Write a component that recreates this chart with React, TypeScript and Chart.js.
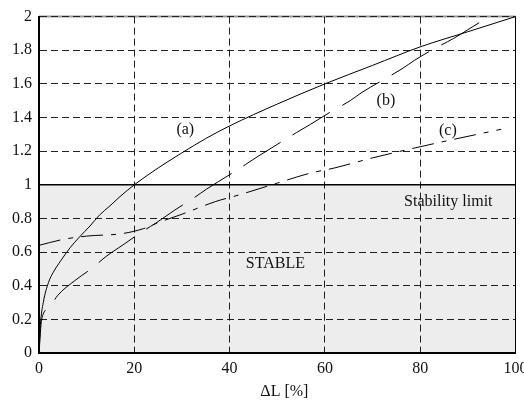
import React, { useEffect, useRef } from "react";
import { Chart, registerables } from "chart.js";

Chart.register(...registerables);

// ---- data ----
const xTickValues = [0, 20, 40, 60, 80, 100];
const yTickValues = [0, 0.2, 0.4, 0.6, 0.8, 1, 1.2, 1.4, 1.6, 1.8, 2];

const curveAX = [0, 0.3, 0.9, 2, 3, 4.6, 6.5, 8.5, 10.7, 12.7, 14.9, 17, 20, 25, 30, 35, 40, 50, 60, 70, 80, 90, 100];
const curveAY = [0, 0.17, 0.3, 0.42, 0.48, 0.55, 0.625, 0.69, 0.755, 0.82, 0.875, 0.93, 1.0, 1.1, 1.19, 1.275, 1.35, 1.48, 1.6, 1.71, 1.82, 1.91, 2.0];

const curveBX = [0, 0.56, 2.2, 3.85, 7.5, 11.4, 13.9, 18, 22.1, 24.4, 28.5, 32.4, 35.2, 40, 43.3, 46, 50, 54, 57, 61, 65.3, 67.8, 72, 76.2, 78.8, 83, 87, 89.9, 94.4];
const curveBY = [0, 0.2, 0.27, 0.34, 0.43, 0.51, 0.57, 0.65, 0.73, 0.77, 0.85, 0.92, 0.975, 1.06, 1.12, 1.17, 1.24, 1.31, 1.36, 1.43, 1.5, 1.55, 1.62, 1.69, 1.74, 1.81, 1.87, 1.92, 2.0];

const curveCX = [0, 5, 10, 17.5, 22, 25, 30, 37, 42, 50, 57, 62, 70, 79, 87, 97];
const curveCY = [0.64, 0.675, 0.695, 0.71, 0.74, 0.775, 0.825, 0.9, 0.94, 1.01, 1.07, 1.1, 1.16, 1.22, 1.27, 1.33];

const stabilityX = [0, 100];
const stabilityY = [1, 1];

const labelTexts = ["(a)", "(b)", "(c)", "Stability limit", "STABLE"];
const labelX = [30.7, 72.8, 85.8, 85.9, 49.6];
const labelY = [1.325, 1.5, 1.32, 0.9, 0.53];

const xAxisTitle = "ΔL [%]";
const xAxisTitleX = 51.5;

const FONT = '"Liberation Serif", "Times New Roman", serif';

const toPoints = (xs: number[], ys: number[]) => xs.map((x, i) => ({ x, y: ys[i] }));

const annotationPlugin = {
  id: "annotations",
  beforeDraw(chart: any) {
    const { ctx, chartArea } = chart;
    ctx.save();
    ctx.strokeStyle = "#999";
    ctx.lineWidth = 2;
    ctx.beginPath();
    ctx.moveTo(chartArea.left, chartArea.top);
    ctx.lineTo(chartArea.right, chartArea.top);
    ctx.stroke();
    ctx.restore();
  },
  afterDatasetsDraw(chart: any) {
    const { ctx, chartArea, scales } = chart;
    const xs = scales.x;
    const ys = scales.y;
    ctx.save();
    // right border
    ctx.strokeStyle = "#000";
    ctx.lineWidth = 1;
    ctx.beginPath();
    ctx.moveTo(chartArea.right, chartArea.top);
    ctx.lineTo(chartArea.right, chartArea.bottom);
    ctx.stroke();
    ctx.font = `16px ${FONT}`;
    ctx.fillStyle = "#111";
    ctx.textAlign = "center";
    ctx.textBaseline = "middle";
    labelTexts.forEach((t, i) => {
      ctx.fillText(t, xs.getPixelForValue(labelX[i]), ys.getPixelForValue(labelY[i]));
    });
    ctx.fillText(xAxisTitle, xs.getPixelForValue(xAxisTitleX), chartArea.bottom + 39);
    ctx.restore();
  },
};

export default function App() {
  const ref = useRef<HTMLCanvasElement | null>(null);
  useEffect(() => {
    if (!ref.current) return;
    const lineBase = {
      borderColor: "#000",
      borderWidth: 1,
      pointRadius: 0,
      fill: false,
      cubicInterpolationMode: "monotone" as const,
    };
    const chart = new Chart(ref.current, {
      type: "line",
      data: {
        datasets: [
          { ...lineBase, label: "a", data: toPoints(curveAX, curveAY) },
          { ...lineBase, label: "b", data: toPoints(curveBX, curveBY), borderDash: [44, 14] },
          { ...lineBase, label: "c", data: toPoints(curveCX, curveCY), borderDash: [22, 8, 5, 8] },
          {
            label: "stability",
            data: toPoints(stabilityX, stabilityY),
            borderColor: "#000",
            borderWidth: 1.5,
            pointRadius: 0,
            fill: "origin",
            backgroundColor: "rgba(0,0,0,0.07)",
          },
        ],
      },
      options: {
        responsive: false,
        animation: false,
        layout: { padding: { top: 12, right: 8.5, left: 0, bottom: 0 } },
        plugins: { legend: { display: false }, tooltip: { enabled: false } },
        scales: {
          x: {
            type: "linear",
            min: 0,
            max: 100,
            afterBuildTicks: (s: any) => {
              s.ticks = xTickValues.map((v) => ({ value: v }));
            },
            afterFit: (s: any) => {
              s.height = 52;
              s.paddingRight = 0;
              s.paddingLeft = 0;
            },
            ticks: {
              padding: 6,
              color: "#111",
              font: { family: FONT, size: 16 },
              maxRotation: 0,
              callback: (v: any) => String(v),
            },
            grid: { color: "#222", lineWidth: 1, drawTicks: false },
            border: { display: true, color: "#000", width: 2, dash: [7, 4] },
          },
          y: {
            type: "linear",
            min: 0,
            max: 2,
            afterBuildTicks: (s: any) => {
              s.ticks = yTickValues.map((v) => ({ value: v }));
            },
            afterFit: (s: any) => {
              s.width = 39;
            },
            ticks: {
              padding: 7,
              color: "#111",
              font: { family: FONT, size: 16 },
              callback: (v: any) => String(Math.round(Number(v) * 10) / 10),
            },
            grid: { color: "#222", lineWidth: 1, drawTicks: false },
            border: { display: true, color: "#000", width: 2, dash: [7, 4] },
          },
        },
      },
      plugins: [annotationPlugin],
    } as any);
    return () => chart.destroy();
  }, []);
  return (
    <div style={{ position: "absolute", left: 0, top: 0, width: 524, height: 405, background: "#fff" }}>
      <canvas ref={ref} width={524} height={405} />
    </div>
  );
}
